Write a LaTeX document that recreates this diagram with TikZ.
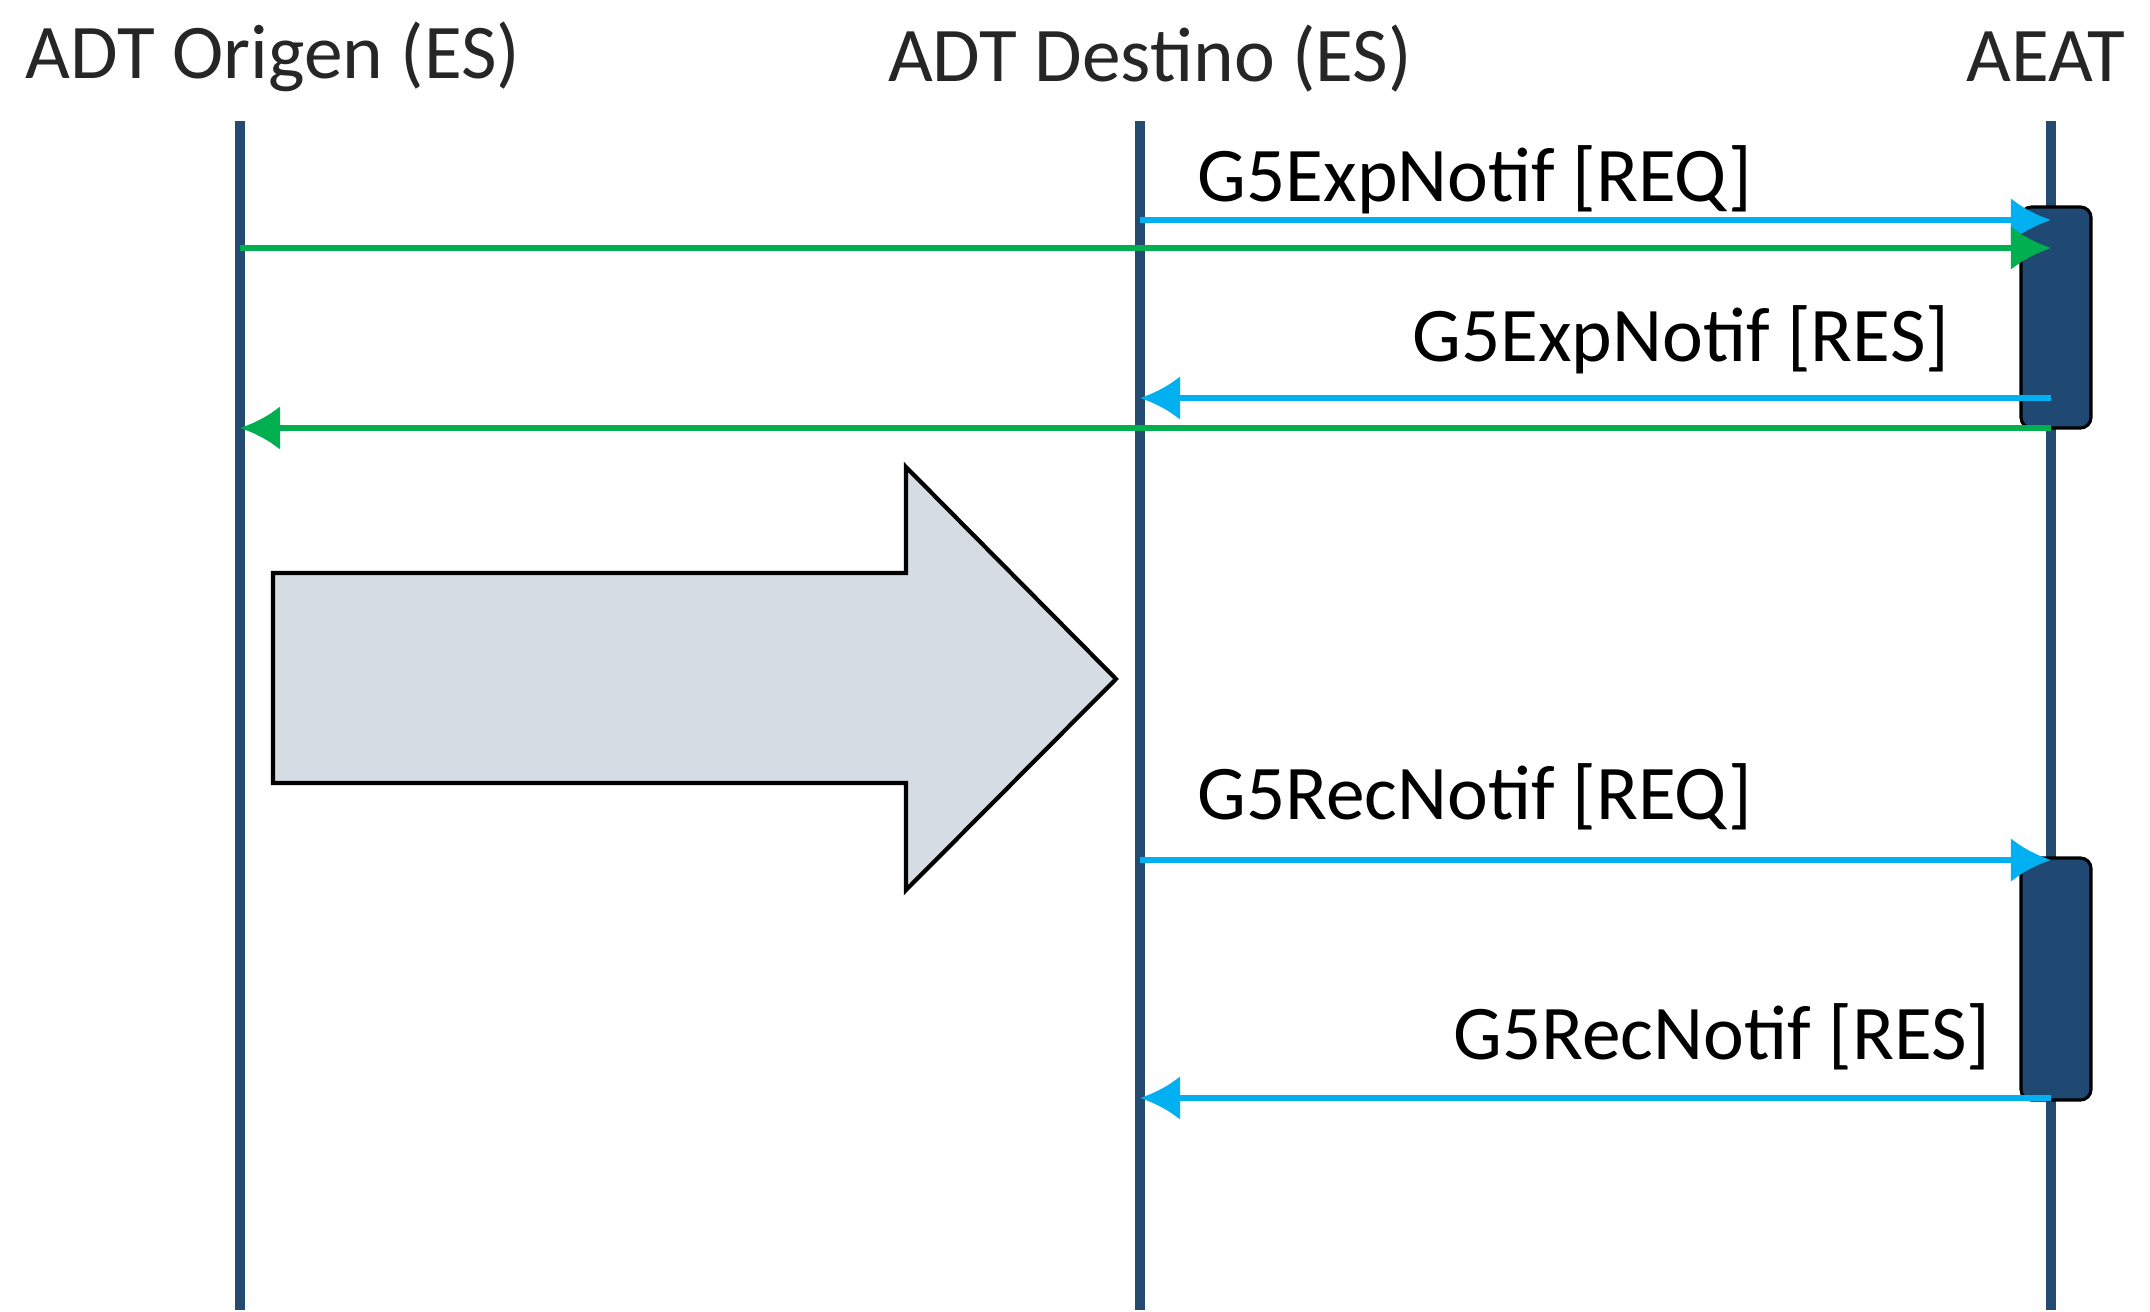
\documentclass[tikz,border=0pt]{standalone}
\usepackage{fontspec}
\setmainfont{Carlito}
\usetikzlibrary{arrows.meta}

\definecolor{lifeblue}{RGB}{36,74,112}
\definecolor{actblue}{RGB}{31,73,115}
\definecolor{msgcyan}{RGB}{0,176,240}
\definecolor{msggreen}{RGB}{0,176,80}
\definecolor{bigfill}{RGB}{214,220,228}

\tikzset{
    title/.style={anchor=base, text=black!85, inner sep=0pt, font=\fontsize{22}{26}\selectfont},
    msglabel/.style={inner sep=0pt, text=black, font=\fontsize{22}{26}\selectfont},
    lifeline/.style={draw=lifeblue, line width=2.9pt},
    activation/.style={draw=black, fill=actblue, line width=0.9pt, rounded corners=3pt},
    msgblue/.style={draw=msgcyan, line width=1.9pt, -{Latex[length=0.4cm, width=0.44cm]}},
    msgreen/.style={draw=msggreen, line width=1.9pt, -{Latex[length=0.4cm, width=0.44cm]}}
}

\begin{document}
\begin{tikzpicture}[x=0.01cm, y=-0.01cm]
        \useasboundingbox (0,0) rectangle (2150,1312);

        % Draw the titles
        \node[title] (origen) at (273,78) {ADT Origen (ES)};
        \node[title] (destino) at (1150,81) {ADT Destino (ES)};
        \node[title] (aeat) at (2046,81) {AEAT};

        % Draw the lifelines
        \foreach \n/\x in {origen/240, destino/1140, aeat/2051} {
            \coordinate (\n-top) at (\x,121);
            \coordinate (\n-bot) at (\x,1310);
            \draw[lifeline] (\n-top) -- (\n-bot);
        }

        % Draw the activation boxes
        \draw[activation] (2021,207) rectangle (2091,428);
        \draw[activation] (2021,858) rectangle (2091,1100);

        % Message levels
        \foreach \l/\y in {req1/220, fwd/248, res1/398, back/428, req2/860, res2/1098} {
            \coordinate (\l) at (0,\y);
        }

        % Draw the messages
        \draw[msgblue] (destino-top |- req1) -- (aeat-top |- req1);
        \draw[msgreen] (origen-top |- fwd) -- (aeat-top |- fwd);
        \draw[msgblue] (aeat-top |- res1) -- (destino-top |- res1);
        \draw[msgreen] (aeat-top |- back) -- (origen-top |- back);
        \draw[msgblue] (destino-top |- req2) -- (aeat-top |- req2);
        \draw[msgblue] (aeat-top |- res2) -- (destino-top |- res2);

        % Add the labels
        \node[msglabel, anchor=base west] (lreq1) at (1197,202) {G5ExpNotif [REQ]};
        \node[msglabel, anchor=base east] (lres1) at (1950,361) {G5ExpNotif [RES]};
        \node[msglabel, anchor=base west] (lreq2) at (1197,819) {G5RecNotif [REQ]};
        \node[msglabel, anchor=base east] (lres2) at (1991,1059) {G5RecNotif [RES]};

        % Draw the big arrow
        \draw[fill=bigfill, line width=1.2pt] (273,573) -- (906,573) -- (906,467) -- (1116,679)
            -- (906,890) -- (906,783) -- (273,783) -- cycle;
    \end{tikzpicture}
\end{document}
